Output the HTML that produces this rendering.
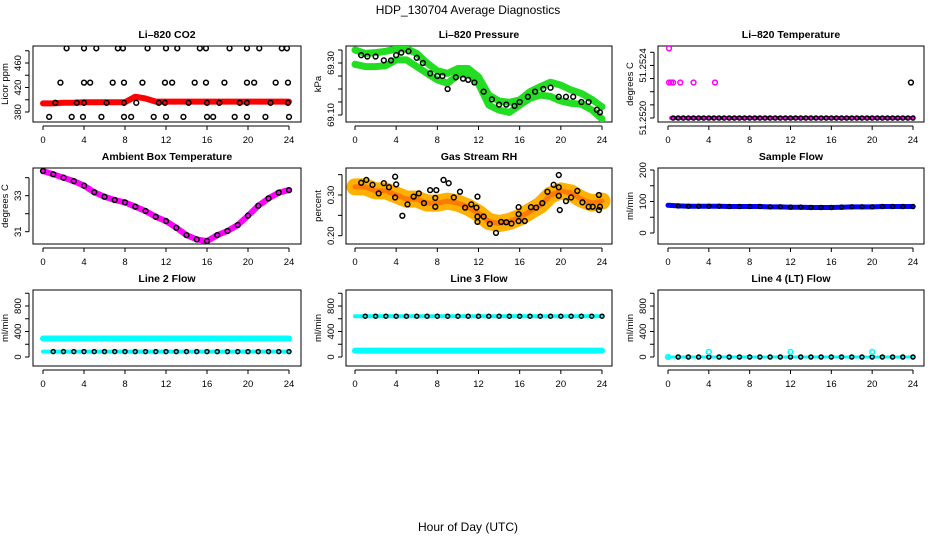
<!DOCTYPE html>
<html><head><meta charset="utf-8"><style>
html,body{margin:0;padding:0;background:#fff;}
svg{display:block;font-family:"Liberation Sans",sans-serif;}
</style></head><body>
<svg id="chart" width="936" height="540" viewBox="0 0 936 540">
<text x="468" y="14" text-anchor="middle" font-size="12">HDP_130704  Average Diagnostics</text>
<text x="468" y="531" text-anchor="middle" font-size="12">Hour of Day (UTC)</text>
</svg>
<script>
// ---- data ----
const xTicks = [0,4,8,12,16,20,24];
const bandHours = [0,1,2,3,4,5,6,7,8,9,10,11,12,13,14,15,16,17,18,19,20,21,22,23,24];
// CO2
const co2Red = [394,394,395,395,396,396,396,396,396,405,402,397,397,397,397,397,397,397,397,397,397,397,397,397,397];
const co2TopH = [2.3,4.0,5.2,7.3,7.8,10.2,12.0,13.1,15.3,15.9,18.2,19.9,21.1,23.3,23.8];
const co2MidH = [1.7,4.0,4.6,6.8,7.9,9.7,11.9,12.6,14.8,15.9,17.7,19.9,20.6,22.7,23.9];
const co2LowH = [0.6,2.8,3.9,5.7,7.9,8.6,10.8,12.0,13.7,16.0,16.6,18.7,19.9,21.7,24.0];
const co2LineH = [1.2,3.3,4.0,6.2,7.9,9.1,11.3,11.9,14.2,16.0,17.2,19.2,19.9,22.2,23.9];
const co2Levels = [484,428,372,395];
// Pressure
const presHi = [69.350,69.337,69.340,69.345,69.354,69.355,69.337,69.300,69.270,69.260,69.279,69.279,69.247,69.177,69.154,69.149,69.158,69.190,69.209,69.226,69.215,69.196,69.183,69.160,69.132];
const presLo = [69.295,69.286,69.286,69.290,69.312,69.312,69.286,69.260,69.235,69.222,69.254,69.260,69.220,69.138,69.119,69.110,69.138,69.164,69.177,69.171,69.154,69.145,69.141,69.120,69.085];
const presBlackH = [0.6,1.2,2.0,2.8,3.5,4.0,4.5,5.2,6.0,6.6,7.3,8.0,8.5,9.0,9.8,10.5,11.0,11.6,12.5,13.3,14.0,14.7,15.5,16.0,16.8,17.5,18.3,19.0,19.8,20.5,21.2,22.0,22.7,23.5,23.8];
const presBlack = [69.33,69.325,69.325,69.31,69.31,69.33,69.34,69.345,69.32,69.30,69.26,69.25,69.25,69.20,69.245,69.24,69.235,69.225,69.19,69.16,69.14,69.14,69.135,69.15,69.17,69.19,69.20,69.205,69.17,69.17,69.17,69.15,69.15,69.12,69.11];
// Li-820 temperature
const tempLineH = [0.3,24];
const tempLine = [51.2520,51.2520];
const tempBlackH = [0.5,1,1.5,2,2.5,3,3.5,4,4.5,5,5.5,6,6.5,7,7.5,8,8.5,9,9.5,10,10.5,11,11.5,12,12.5,13,13.5,14,14.5,15,15.5,16,16.5,17,17.5,18,18.5,19,19.5,20,20.5,21,21.5,22,22.5,23,23.5,24];
const tempMagH = [0.1,0.1,0.3,0.5,1.2,2.5,4.6];
const tempMag = [51.25253,51.25227,51.25227,51.25227,51.25227,51.25227,51.25227];
const tempOutH = [23.8];
const tempOut = [51.25227];
// Ambient box temperature
const ambient = [34.37,34.19,34.0,33.81,33.56,33.19,32.94,32.76,32.63,32.39,32.15,31.83,31.59,31.22,30.81,30.57,30.48,30.81,31.04,31.37,31.89,32.44,32.85,33.17,33.31];
// Gas stream RH
const rhBand = [0.32,0.32,0.31,0.31,0.30,0.29,0.29,0.28,0.28,0.285,0.28,0.27,0.255,0.235,0.23,0.235,0.245,0.26,0.275,0.30,0.31,0.305,0.29,0.28,0.285];
const rhBlackH = [0.6,1.1,1.7,2.3,2.8,3.3,3.9,4.0,3.9,4.6,5.1,5.7,6.2,6.7,7.3,7.9,7.8,7.8,8.6,9.1,9.6,10.2,10.7,11.3,11.8,11.9,11.9,11.9,12.5,13.1,13.7,14.2,14.7,15.2,15.9,15.9,15.9,16.5,17.1,17.6,18.2,18.7,19.3,19.8,19.8,19.8,19.9,20.5,21.0,21.6,22.1,22.7,23.1,23.7,23.8,23.7];
const rhBlack = [0.330,0.337,0.325,0.304,0.329,0.319,0.345,0.326,0.294,0.249,0.277,0.296,0.304,0.280,0.312,0.312,0.293,0.271,0.337,0.329,0.294,0.308,0.269,0.277,0.269,0.296,0.247,0.234,0.247,0.229,0.207,0.234,0.233,0.230,0.270,0.253,0.236,0.236,0.270,0.269,0.280,0.308,0.325,0.349,0.319,0.298,0.263,0.285,0.294,0.310,0.282,0.271,0.271,0.300,0.271,0.263];
// Flows
const sampleFlow = [88,86,85,85,85,85,84,84,84,84,83,83,82,82,81,81,81,82,83,83,83,84,84,84,84];
const line2Hi = [290,290,290,290,290,290,290,290,290,290,290,290,290,290,290,290,290,290,290,290,290,290,290,290,290];
const line2Lo = [85,85,85,85,85,85,85,85,85,85,85,85,85,85,85,85,85,85,85,85,85,85,85,85,85];
const line3Hi = [640,640,640,640,640,640,640,640,640,640,640,640,640,640,640,640,640,640,640,640,640,640,640,640,640];
const line3Lo = [100,100,100,100,100,100,100,100,100,100,100,100,100,100,100,100,100,100,100,100,100,100,100,100,100];
const line4 = [0,0,0,0,0,0,0,0,0,0,0,0,0,0,0,0,0,0,0,0,0,0,0,0,0];
const line4SpikeH = [4,12,20];
const line4Spike = [80,80,80];

// ---- layout ----
const svg = document.getElementById('chart');
const NS = 'http://www.w3.org/2000/svg';
function mk(tag, attrs, parent){const e=document.createElementNS(NS,tag);for(const k in attrs)e.setAttribute(k,attrs[k]);(parent||svg).appendChild(e);return e;}
const cols = [{l:33,r:301,x0:43,x24:289},{l:346,r:612,x0:355,x24:602},{l:658,r:924,x0:668,x24:913}];
const rows = [{t:46,b:122},{t:168,b:244},{t:290,b:366}];

function panel(ci, ri, name, title, ylab, v1, y1, v2, y2, ticks, labels, labelFmt){
  const c=cols[ci], r=rows[ri];
  const g = mk('g',{});
  
  
  const X = h => c.x0 + (c.x24-c.x0)*h/24;
  const Y = v => y1 + (v-v1)*(y2-y1)/(v2-v1);
  const t = mk('text',{x:(c.l+c.r)/2,y:r.t-8,'text-anchor':'middle','font-size':10.5,'font-weight':'bold'},g);
  t.textContent=title;
  
  
  const box = mk('rect',{x:c.l,y:r.t,width:c.r-c.l,height:r.b-r.t,fill:'none',stroke:'#000','stroke-width':1},g);
  
  
  const xa = mk('g',{},g);
  
  
  mk('line',{x1:X(0),x2:X(24),y1:r.b+4,y2:r.b+4,stroke:'#000'},xa);
  xTicks.forEach(h=>{
    mk('line',{x1:X(h),x2:X(h),y1:r.b+4,y2:r.b+8,stroke:'#000'},xa);
    const tl=mk('text',{x:X(h),y:r.b+21,'text-anchor':'middle','font-size':9.5},xa);
    tl.textContent=h;
  });
  const ya = mk('g',{},g);
  
  
  const ys = ticks.map(Y);
  mk('line',{x1:c.l-4,x2:c.l-4,y1:Math.min(...ys),y2:Math.max(...ys),stroke:'#000'},ya);
  ticks.forEach(v=>{
    mk('line',{x1:c.l-8,x2:c.l-4,y1:Y(v),y2:Y(v),stroke:'#000'},ya);
  });
  labels.forEach(v=>{
    const tx=c.l-12, ty=Y(v);
    const tl=mk('text',{x:tx,y:ty,'text-anchor':'middle','font-size':9.5,transform:`rotate(-90 ${tx} ${ty})`},ya);
    tl.textContent=labelFmt?labelFmt(v):v;
  });
  const yt = mk('text',{x:c.l-25,y:(r.t+r.b)/2,'text-anchor':'middle','font-size':9.5,transform:`rotate(-90 ${c.l-25} ${(r.t+r.b)/2})`},g);
  yt.textContent=ylab;
  
  
  const clip = 'clip'+ci+ri;
  const cp = mk('clipPath',{id:clip},g); mk('rect',{x:c.l,y:r.t,width:c.r-c.l,height:r.b-r.t},cp);
  const data = mk('g',{'clip-path':`url(#${clip})`},g);
  
  
  return {X,Y,g:data};
}
function band(p, hours, vals, color, w, nm){
  const pts = hours.map((h,i)=>p.X(h).toFixed(1)+','+p.Y(vals[i]).toFixed(1)).join(' ');
  const pl = mk('polyline',{points:pts,fill:'none',stroke:color,'stroke-width':w,'stroke-linecap':'round','stroke-linejoin':'round'},p.g);
  
  
}
function pts(p, hours, vals, color, nm, rr){
  hours.forEach((h,i)=>{
    const c = mk('circle',{cx:p.X(h),cy:p.Y(vals[i]),r:rr||2.4,fill:'none',stroke:color,'stroke-width':1.5},p.g);
    
    
  });
}
const const_ = (n,v)=>Array(n).fill(v);

let p = panel(0,0,'co2','Li\u2013820 CO2','Licor ppm',380,112,460,63,[380,400,420,440,460,480],[380,420,460]);
band(p,bandHours,co2Red,'#ff0000',6,'co2-average-line');
pts(p,co2TopH,const_(co2TopH.length,co2Levels[0]),'#000','co2-point');
pts(p,co2MidH,const_(co2MidH.length,co2Levels[1]),'#000','co2-point');
pts(p,co2LowH,const_(co2LowH.length,co2Levels[2]),'#000','co2-point');
pts(p,co2LineH,const_(co2LineH.length,co2Levels[3]),'#000','co2-point');

p = panel(1,0,'pressure','Li\u2013820 Pressure','kPa',69.10,115,69.30,63,[69.10,69.15,69.20,69.25,69.30,69.35],[69.10,69.30],v=>v.toFixed(2));
band(p,bandHours,presHi,'#22dd22',7,'pressure-band-upper');
band(p,bandHours,presLo,'#22dd22',7,'pressure-band-lower');
pts(p,presBlackH,presBlack,'#000','pressure-point');

p = panel(2,0,'li820-temp','Li\u2013820 Temperature','degrees C',51.2520,118,51.2525,52.3,[51.2520,51.2521,51.2522,51.2523,51.2524,51.2525],[51.2520,51.2524],v=>v.toFixed(4));
band(p,tempLineH,tempLine,'#ff00ff',4,'li820-temp-line');
pts(p,tempBlackH,const_(tempBlackH.length,51.2520),'#000','li820-temp-point',2);
pts(p,tempMagH,tempMag,'#ff00ff','li820-temp-outlier');
pts(p,tempOutH,tempOut,'#000','li820-temp-outlier');

p = panel(0,1,'ambient-temp','Ambient Box Temperature','degrees C',33,195.7,31,231.7,[31,32,33,34],[31,33]);
band(p,bandHours,ambient,'#ff00ff',6,'ambient-temp-line');
pts(p,bandHours,ambient,'#000','ambient-temp-point');

p = panel(1,1,'gas-rh','Gas Stream RH','percent',0.30,195,0.20,235.7,[0.20,0.25,0.30,0.35],[0.20,0.30],v=>v.toFixed(2));
band(p,bandHours,rhBand,'#ffb000',17,'gas-rh-band');
band(p,bandHours,rhBand,'#ff7a00',5,'gas-rh-band-core');
pts(p,rhBlackH,rhBlack,'#000','gas-rh-point');

p = panel(2,1,'sample-flow','Sample Flow','ml/min',0,233,200,170,[0,50,100,150,200],[0,100,200]);
band(p,bandHours,sampleFlow,'#0000ff',5,'sample-flow-line');
pts(p,bandHours.slice(1),sampleFlow.slice(1),'#000','sample-flow-point',2);

p = panel(0,2,'line2-flow','Line 2 Flow','ml/min',0,357,800,306,[0,200,400,600,800,1000],[0,400,800]);
band(p,bandHours,line2Hi,'#00ffff',6,'line2-flow-upper');
band(p,bandHours,line2Lo,'#00ffff',4,'line2-flow-lower');
pts(p,bandHours.slice(1),line2Lo.slice(1),'#000','line2-flow-point',2);

p = panel(1,2,'line3-flow','Line 3 Flow','ml/min',0,357,800,306,[0,200,400,600,800,1000],[0,400,800]);
band(p,bandHours,line3Hi,'#00ffff',4,'line3-flow-upper');
band(p,bandHours,line3Lo,'#00ffff',6,'line3-flow-lower');
pts(p,bandHours.slice(1),line3Hi.slice(1),'#000','line3-flow-point',2);

p = panel(2,2,'line4-flow','Line 4 (LT) Flow','ml/min',0,357,800,306,[0,200,400,600,800,1000],[0,400,800]);
band(p,bandHours,line4,'#00ffff',3,'line4-flow-line');
pts(p,bandHours.slice(1),line4.slice(1),'#000','line4-flow-point',2);
pts(p,[0],[0],'#00ffff','line4-flow-point');
pts(p,line4SpikeH,line4Spike,'#00ffff','line4-flow-spike');
</script>
</body></html>
